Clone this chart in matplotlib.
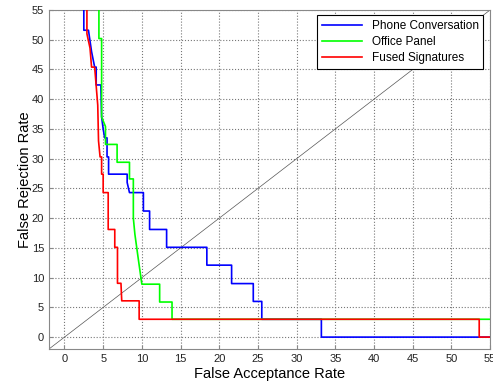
import numpy as np
import matplotlib
matplotlib.use("Agg")
import matplotlib.pyplot as plt

plt.rcParams['font.family'] = ['Liberation Sans', 'DejaVu Sans']

# step curves (FAR, FRR)
phone_far = [2.5, 2.5, 3.1, 3.5, 3.9, 4.1, 4.1, 4.7, 4.8, 5.0, 5.2, 5.5, 5.5, 5.7, 5.7,
             8.1, 8.1, 8.4, 10.2, 10.2, 11.0, 11.0, 13.2, 13.2, 18.4, 18.4, 21.6, 21.6,
             24.4, 24.4, 25.5, 25.5, 33.2, 33.2, 55.0]
phone_frr = [55.0, 51.6, 51.6, 48.0, 45.4, 45.4, 42.4, 42.4, 37.0, 35.0, 33.5, 33.5, 30.3, 30.3, 27.4,
             27.4, 26.0, 24.3, 24.3, 21.2, 21.2, 18.1, 18.1, 15.1, 15.1, 12.1, 12.1, 9.0,
             9.0, 6.0, 6.0, 3.0, 3.0, 0.0, 0.0]

office_far = [4.45, 4.45, 4.8, 4.8, 5.3, 5.3, 6.8, 6.8, 8.4, 8.4, 8.9, 8.9, 9.1, 9.5,
              10.0, 12.3, 12.3, 13.9, 13.9, 55.0]
office_frr = [55.0, 50.2, 50.2, 37.0, 35.4, 32.4, 32.4, 29.4, 29.4, 26.6, 26.6, 20.0, 17.3, 13.5,
              8.9, 8.9, 5.9, 5.9, 3.0, 3.0]

fused_far = [2.9, 2.9, 3.3, 3.5, 3.9, 4.3, 4.4, 4.6, 4.8, 4.8, 5.0, 5.0, 5.65, 5.65,
             6.5, 6.5, 6.85, 6.85, 7.3, 7.4, 9.65, 9.65, 53.6, 53.6, 55.0]
fused_frr = [55.0, 51.0, 48.6, 45.4, 45.4, 39.0, 33.0, 30.3, 30.3, 27.4, 27.4, 24.3, 24.3, 18.1,
             18.1, 15.1, 15.1, 9.05, 9.05, 6.1, 6.1, 3.0, 3.0, 0.0, 0.0]

ticks = np.arange(0, 56, 5)

fig = plt.figure(figsize=(4.93, 3.85), dpi=100)
ax = fig.add_axes([0.0994, 0.0935, 0.8946, 0.8805])

# equal error rate line
ax.plot([-2, 55], [-2, 55], color='#555555', lw=0.5, zorder=2)
ax.plot(phone_far, phone_frr, color='#0000ff', lw=1.2, label='Phone Conversation', zorder=3)
ax.plot(office_far, office_frr, color='#00ff00', lw=1.2, label='Office Panel', zorder=3)
ax.plot(fused_far, fused_frr, color='#ff0000', lw=1.2, label='Fused Signatures', zorder=4)

ax.set_xlim(-2, 55)
ax.set_ylim(-2, 55)
ax.set_xticks(ticks)
ax.set_yticks(ticks)
ax.grid(True, linestyle=':', color='#777777', lw=0.8)
ax.tick_params(direction='in', labelsize=8, length=3, color='#888888', labelcolor='#222222')
for s in ax.spines.values():
    s.set_color('#888888')

ax.set_xlabel('False Acceptance Rate', fontsize=10.5, labelpad=2)
ax.set_ylabel('False Rejection Rate', fontsize=10.5, labelpad=0)

leg = ax.legend(loc='upper right', fontsize=8.5, fancybox=False, framealpha=1,
                edgecolor='black', handlelength=3.4, borderpad=0.4, labelspacing=0.35,
                bbox_to_anchor=(0.998, 1.002))
leg.set_zorder(10)
leg.get_frame().set_linewidth(0.8)

fig.savefig('out.png', dpi=100)
